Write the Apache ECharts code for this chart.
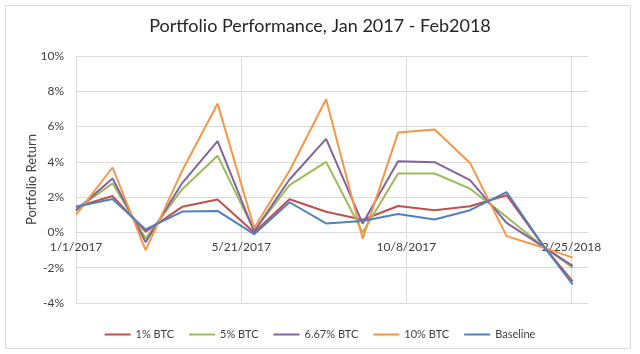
<!DOCTYPE html>
<html>
<head>
<meta charset="utf-8">
<script src="https://cdn.jsdelivr.net/npm/echarts@6/dist/echarts.min.js"></script>
<style>
  html, body { margin: 0; padding: 0; background: #fff; }
  #chart { width: 640px; height: 354px; }
</style>
</head>
<body>
<div id="chart"></div>
<script>
// first of each month, last point near end of Feb 2018
var dates = ['2017-01-01', '2017-02-01', '2017-03-01', '2017-04-01', '2017-05-01',
  '2017-06-01', '2017-07-01', '2017-08-01', '2017-09-01', '2017-10-01',
  '2017-11-01', '2017-12-01', '2018-01-01', '2018-02-01', '2018-02-26'];

var btc1 = [1.45, 2.06, 0.05, 1.45, 1.87, 0.0, 1.88, 1.17, 0.72, 1.5, 1.26, 1.48, 2.11, -0.75, -2.77];
var btc5 = [1.3, 2.78, -0.35, 2.45, 4.35, 0.1, 2.68, 4.0, 0.0, 3.34, 3.34, 2.48, 0.88, -0.8, -2.0];
var btc667 = [1.25, 3.06, -0.55, 2.8, 5.17, 0.05, 3.0, 5.3, 0.5, 4.04, 3.98, 2.96, 0.54, -0.8, -1.9];
var btc10 = [1.0, 3.68, -1.0, 3.5, 7.3, 0.25, 3.5, 7.55, -0.35, 5.66, 5.83, 3.94, -0.21, -0.85, -1.43];
var baseline = [1.45, 1.89, 0.17, 1.18, 1.22, -0.1, 1.71, 0.51, 0.65, 1.04, 0.73, 1.26, 2.29, -0.75, -2.95];

var seriesNames = ['1% BTC', '5% BTC', '6.67% BTC', '10% BTC', 'Baseline'];
var seriesData = [btc1, btc5, btc667, btc10, baseline];
var colors = ['#C0504D', '#9BBB59', '#8064A2', '#F79646', '#4F81BD'];

var DAY = 86400000;
var xMin = Date.UTC(2017, 0, 1);
var xMax = xMin + 434 * DAY;

function toTime(s) {
  var p = s.split('-');
  return Date.UTC(+p[0], +p[1] - 1, +p[2]);
}

function fmtDate(v) {
  var d = new Date(v);
  return (d.getUTCMonth() + 1) + '/' + d.getUTCDate() + '/' + d.getUTCFullYear();
}

var chart = echarts.init(document.getElementById('chart'));

var font = 'Lato, "Open Sans", sans-serif';

var series = seriesNames.map(function (name, i) {
  return {
    name: name,
    type: 'line',
    symbol: 'none',
    data: dates.map(function (d, j) { return [toTime(d), seriesData[i][j]]; }),
    lineStyle: { width: 2, color: colors[i] },
    itemStyle: { color: colors[i] }
  };
});

var option = {
  animation: false,
  textStyle: { fontFamily: font },
  title: {
    text: 'Portfolio Performance, Jan 2017 - Feb2018',
    left: 'center',
    top: 12,
    textStyle: { fontFamily: font, fontSize: 18, fontWeight: 'normal', color: '#262626' }
  },
  legend: {
    data: seriesNames,
    left: 'center',
    top: 324,
    icon: 'rect',
    itemWidth: 26,
    itemHeight: 2,
    itemGap: 15,
    textStyle: { fontFamily: font, fontSize: 11, color: '#404040' }
  },
  grid: { left: 76, right: 52, top: 56, bottom: 51 },
  xAxis: {
    type: 'value',
    min: xMin,
    max: xMax,
    interval: 140 * DAY,
    // labels sit just under the 0% line, like the Excel original
    offset: -71,
    axisLine: { onZero: false, lineStyle: { color: '#d9d9d9', width: 1 } },
    axisTick: { show: false },
    axisLabel: {
      formatter: fmtDate,
      showMaxLabel: false,
      margin: 9,
      fontFamily: font,
      fontSize: 12,
      color: '#404040'
    },
    splitLine: { show: true, showMaxLine: false, lineStyle: { color: '#d9d9d9' } }
  },
  yAxis: {
    type: 'value',
    min: -4,
    max: 10,
    interval: 2,
    name: 'Portfolio Return',
    nameLocation: 'middle',
    nameGap: 38,
    nameMoveOverlap: false,
    nameTextStyle: { fontFamily: font, fontSize: 13, color: '#404040' },
    axisLine: { show: false },
    axisTick: { show: false },
    axisLabel: { formatter: '{value}%', margin: 12, fontFamily: font, fontSize: 12, color: '#404040' },
    splitLine: { lineStyle: { color: '#d9d9d9' } }
  },
  graphic: [{
    type: 'rect',
    shape: { x: 5.5, y: 5.5, width: 625, height: 343 },
    style: { fill: 'none', stroke: '#d9d9d9', lineWidth: 1 },
    silent: true
  }],
  series: series
};

chart.setOption(option);
</script>
</body>
</html>
